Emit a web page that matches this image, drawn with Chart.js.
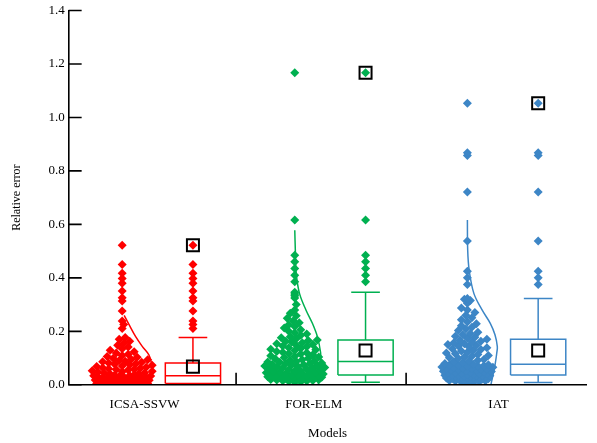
<!DOCTYPE html>
<html>
<head>
<meta charset="utf-8">
<script src="https://cdn.jsdelivr.net/npm/chart.js@4"></script>
<style>
  html, body { margin: 0; padding: 0; background: #fff; }
</style>
</head>
<body>
<canvas id="chart" width="597" height="443"></canvas>
<script>
// models on the x axis
const models = ['ICSA-SSVW', 'FOR-ELM', 'IAT'];
const colors = ['#ff0000', '#00b050', '#3d86c6'];

// relative errors of each model (estimated from the point columns)
const errICSA = [
  0.000, 0.000, 0.001, 0.001, 0.001, 0.002, 0.002, 0.002, 0.002, 0.003,
  0.003, 0.003, 0.003, 0.004, 0.004, 0.004, 0.004, 0.005, 0.005, 0.005,
  0.005, 0.005, 0.006, 0.006, 0.006, 0.007, 0.008, 0.009, 0.010, 0.011,
  0.012, 0.013, 0.014, 0.015, 0.017, 0.018, 0.019, 0.020, 0.021, 0.022,
  0.024, 0.025, 0.026, 0.027, 0.028, 0.029, 0.030, 0.031, 0.033, 0.034,
  0.035, 0.037, 0.038, 0.040, 0.042, 0.044, 0.045, 0.047, 0.049, 0.051,
  0.053, 0.055, 0.057, 0.058, 0.060, 0.062, 0.064, 0.066, 0.068, 0.070,
  0.073, 0.075, 0.077, 0.079, 0.082, 0.084, 0.086, 0.088, 0.091, 0.094,
  0.096, 0.099, 0.103, 0.106, 0.110, 0.114, 0.119, 0.124, 0.129, 0.135,
  0.141, 0.148, 0.155, 0.163, 0.170, 0.177,
  0.211, 0.226, 0.239, 0.276, 0.313, 0.326, 0.351, 0.380, 0.398, 0.417, 0.450, 0.522
];
const errFOR = [
  0.010, 0.011, 0.013, 0.014, 0.015, 0.016, 0.018, 0.019, 0.020, 0.021,
  0.022, 0.023, 0.024, 0.025, 0.026, 0.027, 0.028, 0.029, 0.030, 0.031,
  0.032, 0.032, 0.033, 0.034, 0.034, 0.035, 0.036, 0.036, 0.037, 0.037,
  0.038, 0.040, 0.041, 0.043, 0.045, 0.046, 0.048, 0.050, 0.052, 0.053,
  0.055, 0.057, 0.058, 0.060, 0.062, 0.063, 0.065, 0.067, 0.069, 0.070,
  0.072, 0.074, 0.075, 0.077, 0.079, 0.080, 0.082, 0.084, 0.085, 0.087,
  0.089, 0.092, 0.094, 0.097, 0.099, 0.102, 0.104, 0.107, 0.109, 0.112,
  0.115, 0.117, 0.120, 0.122, 0.125, 0.128, 0.131, 0.133, 0.136, 0.139,
  0.142, 0.145, 0.148, 0.151, 0.154, 0.157, 0.160, 0.163, 0.166, 0.168,
  0.172, 0.176, 0.180, 0.185, 0.190, 0.195, 0.200, 0.206, 0.212, 0.218,
  0.225, 0.232, 0.240, 0.249, 0.258, 0.268, 0.280, 0.300, 0.325, 0.333,
  0.340, 0.346,
  0.385, 0.410, 0.435, 0.460, 0.485, 0.616, 1.167
];
const errIAT = [
  0.009, 0.010, 0.011, 0.012, 0.014, 0.015, 0.016, 0.017, 0.018, 0.020,
  0.021, 0.022, 0.023, 0.024, 0.025, 0.026, 0.027, 0.028, 0.029, 0.030,
  0.031, 0.031, 0.032, 0.033, 0.034, 0.034, 0.035, 0.036, 0.036, 0.037,
  0.038, 0.039, 0.041, 0.042, 0.043, 0.045, 0.046, 0.047, 0.049, 0.050,
  0.051, 0.053, 0.054, 0.055, 0.057, 0.058, 0.059, 0.061, 0.062, 0.063,
  0.065, 0.066, 0.067, 0.069, 0.070, 0.071, 0.073, 0.074, 0.075, 0.077,
  0.080, 0.083, 0.086, 0.089, 0.092, 0.095, 0.098, 0.101, 0.104, 0.107,
  0.110, 0.113, 0.116, 0.119, 0.122, 0.126, 0.129, 0.132, 0.135, 0.139,
  0.142, 0.145, 0.148, 0.151, 0.154, 0.157, 0.160, 0.163, 0.167, 0.170,
  0.174, 0.178, 0.182, 0.187, 0.192, 0.197, 0.203, 0.209, 0.215, 0.221,
  0.228, 0.235, 0.243, 0.251, 0.260, 0.270, 0.280, 0.287, 0.305, 0.315,
  0.320, 0.323,
  0.375, 0.400, 0.425, 0.538, 0.721, 0.858, 0.868, 1.053
];

// box statistics
const boxQ1 = [0.005, 0.037, 0.037];
const boxMedian = [0.034, 0.087, 0.077];
const boxQ3 = [0.082, 0.168, 0.170];
const whiskerLow = [0.000, 0.010, 0.009];
const whiskerHigh = [0.177, 0.346, 0.323];
const boxMean = [0.068, 0.128, 0.128];
const boxMax = [0.522, 1.167, 1.053];
const outliersICSA = [0.211, 0.226, 0.239, 0.276, 0.313, 0.326, 0.351, 0.380, 0.398, 0.417, 0.450, 0.522];
const outliersFOR = [0.385, 0.410, 0.435, 0.460, 0.485, 0.616, 1.167];
const outliersIAT = [0.375, 0.400, 0.425, 0.538, 0.721, 0.858, 0.868, 1.053];

// distribution curves beside the points: error value and relative density
const curveICSAy = [0.260, 0.224, 0.180, 0.143, 0.112, 0.080, 0.050, 0.020, 0.000];
const curveICSAd = [0.07, 0.24, 0.46, 0.69, 0.91, 1.00, 1.00, 0.95, 0.90];
const curveFORy = [0.578, 0.500, 0.417, 0.342, 0.280, 0.230, 0.180, 0.120, 0.090, 0.050, 0.000];
const curveFORd = [0.00, 0.02, 0.05, 0.16, 0.38, 0.60, 0.77, 0.88, 0.88, 0.86, 0.80];
const curveIATy = [0.616, 0.504, 0.429, 0.342, 0.280, 0.230, 0.187, 0.143, 0.118, 0.080, 0.040, 0.000];
const curveIATd = [0.00, 0.01, 0.06, 0.22, 0.50, 0.78, 0.94, 1.02, 1.00, 0.95, 0.88, 0.80];

// axis ticks
const yTicks = [0, 0.2, 0.4, 0.6, 0.8, 1.0, 1.2, 1.4];
const labelAt = [0.44, 1.42, 2.49];
const separatorAt = [0.97, 1.955];

const errors = [errICSA, errFOR, errIAT];
const outliers = [outliersICSA, outliersFOR, outliersIAT];
const curves = [[curveICSAy, curveICSAd], [curveFORy, curveFORd], [curveIATy, curveIATd]];

// layout inside each model slot (x axis units)
const pointsAt = 0.31, boxAt = 0.72;
const spread = 0.18, boxHalf = 0.16, capHalf = 0.083, curveWidth = 0.17;

const font = { family: "'Liberation Serif', 'Times New Roman', serif", size: 13 };

function boxPath(i) {
  const c = i + boxAt, h = boxHalf, w = capHalf;
  const gap = { x: c, y: null };
  return [
    { x: c - h, y: boxQ1[i] }, { x: c + h, y: boxQ1[i] }, { x: c + h, y: boxQ3[i] },
    { x: c - h, y: boxQ3[i] }, { x: c - h, y: boxQ1[i] }, gap,
    { x: c - h, y: boxMedian[i] }, { x: c + h, y: boxMedian[i] }, gap,
    { x: c, y: boxQ3[i] }, { x: c, y: whiskerHigh[i] }, gap,
    { x: c - w, y: whiskerHigh[i] }, { x: c + w, y: whiskerHigh[i] }, gap,
    { x: c, y: boxQ1[i] }, { x: c, y: whiskerLow[i] }, gap,
    { x: c - w, y: whiskerLow[i] }, { x: c + w, y: whiskerLow[i] }
  ];
}

const datasets = [];
models.forEach((m, i) => {
  // mean and max markers
  datasets.push({
    data: [{ x: i + boxAt, y: boxMean[i] }, { x: i + boxAt, y: boxMax[i] }],
    pointStyle: 'rect', pointRadius: 8.5, borderColor: '#000', borderWidth: 2,
    backgroundColor: 'rgba(0,0,0,0)', order: 0
  });
  // outliers beside the box
  datasets.push({
    data: outliers[i].map(v => ({ x: i + boxAt, y: v })),
    pointStyle: 'rectRot', pointRadius: 4.5, borderWidth: 0,
    backgroundColor: colors[i], order: 1
  });
  // box and whiskers
  datasets.push({
    data: boxPath(i), showLine: true, spanGaps: false, pointRadius: 0,
    borderColor: colors[i], borderWidth: 1.5, tension: 0, order: 2
  });
  // all points, spread sideways later
  datasets.push({
    data: [], pointStyle: 'rectRot', pointRadius: 4.5, borderWidth: 0,
    backgroundColor: colors[i], clip: 0, order: 2, swarm: i
  });
  // distribution curve
  datasets.push({
    data: curves[i][0].map((v, k) => ({ x: i + pointsAt + curves[i][1][k] * curveWidth, y: v })),
    showLine: true, pointRadius: 0, borderColor: colors[i], borderWidth: 1.5,
    tension: 0.35, order: 3
  });
});

// inward tick marks on both axes
const axisTicks = {
  id: 'axisTicks',
  afterDraw(chart) {
    const { ctx, chartArea, scales: { x, y } } = chart;
    ctx.save();
    ctx.strokeStyle = '#000';
    ctx.lineWidth = 1.6;
    ctx.beginPath();
    yTicks.forEach(v => {
      const py = y.getPixelForValue(v);
      ctx.moveTo(chartArea.left, py);
      ctx.lineTo(chartArea.left + 13, py);
    });
    separatorAt.forEach(v => {
      const px = x.getPixelForValue(v);
      ctx.moveTo(px, chartArea.bottom);
      ctx.lineTo(px, chartArea.bottom - 12);
    });
    ctx.stroke();
    ctx.restore();
  }
};

const chart = new Chart(document.getElementById('chart'), {
  type: 'scatter',
  data: { datasets: datasets },
  options: {
    responsive: false,
    animation: false,
    events: [],
    layout: { padding: { top: 0, right: 0, left: 4, bottom: 2 } },
    plugins: { legend: { display: false }, tooltip: { enabled: false } },
    scales: {
      x: {
        type: 'linear', min: 0, max: 3,
        afterBuildTicks: axis => { axis.ticks = labelAt.map(v => ({ value: v })); },
        ticks: { callback: (v, i) => models[i], font: font, color: '#000', padding: 12, maxRotation: 0, autoSkip: false },
        grid: { display: false, drawTicks: false },
        border: { display: true, color: '#000', width: 1.6, z: 1 },
        title: { display: true, text: 'Models', font: font, color: '#000', padding: { top: 1, bottom: 0 } }
      },
      y: {
        type: 'linear', min: 0, max: 1.4,
        afterBuildTicks: axis => { axis.ticks = yTicks.map(v => ({ value: v })); },
        ticks: { callback: v => v.toFixed(1), font: { family: font.family, size: 13, lineHeight: 0.9 }, color: '#000', padding: 4 },
        grid: { display: false, drawTicks: false },
        border: { display: true, color: '#000', width: 1.6, z: 1 },
        title: { display: true, text: 'Relative error', font: { family: font.family, size: 12 }, color: '#000', padding: { top: 6, bottom: 20 } }
      }
    }
  },
  plugins: [axisTicks]
});

// relative density of a model's curve at a given error, 1 at its widest
function densityAt(i, v) {
  const ys = curves[i][0], ds = curves[i][1];
  const top = Math.max(...ds);
  if (v >= ys[0]) return 0;
  for (let k = 1; k < ys.length; k++) {
    if (v >= ys[k]) return (ds[k - 1] + (ds[k] - ds[k - 1]) * (ys[k - 1] - v) / (ys[k - 1] - ys[k])) / top;
  }
  return ds[ds.length - 1] / top;
}

// spread each column of points sideways as a swarm kept inside the curve
function swarm(i) {
  const xs = chart.scales.x, ys = chart.scales.y;
  const cx = xs.getPixelForValue(i + pointsAt);
  const maxPx = xs.getPixelForValue(i + pointsAt + spread) - cx;
  const size = 5.5, step = 1.5;
  const placed = [];
  return errors[i].slice().sort((a, b) => a - b).map(v => {
    const py = ys.getPixelForValue(v);
    const d = densityAt(i, v);
    const cap = maxPx * d * d;
    let best = cx, bestDist = -1;
    for (let k = 0; k * step <= cap && bestDist !== Infinity; k++) {
      for (const sign of (k ? [1, -1] : [1])) {
        const px = cx + sign * k * step;
        let dmin = Infinity;
        placed.forEach(p => {
          const dd = Math.hypot(p[0] - px, p[1] - py);
          if (dd < dmin) dmin = dd;
        });
        if (dmin >= size) { best = px; bestDist = Infinity; break; }
        if (dmin > bestDist) { bestDist = dmin; best = px; }
      }
    }
    placed.push([best, py]);
    return { x: xs.getValueForPixel(best), y: v };
  });
}

chart.data.datasets.forEach(ds => {
  if (ds.swarm !== undefined) ds.data = swarm(ds.swarm);
});
chart.update('none');
</script>
</body>
</html>
